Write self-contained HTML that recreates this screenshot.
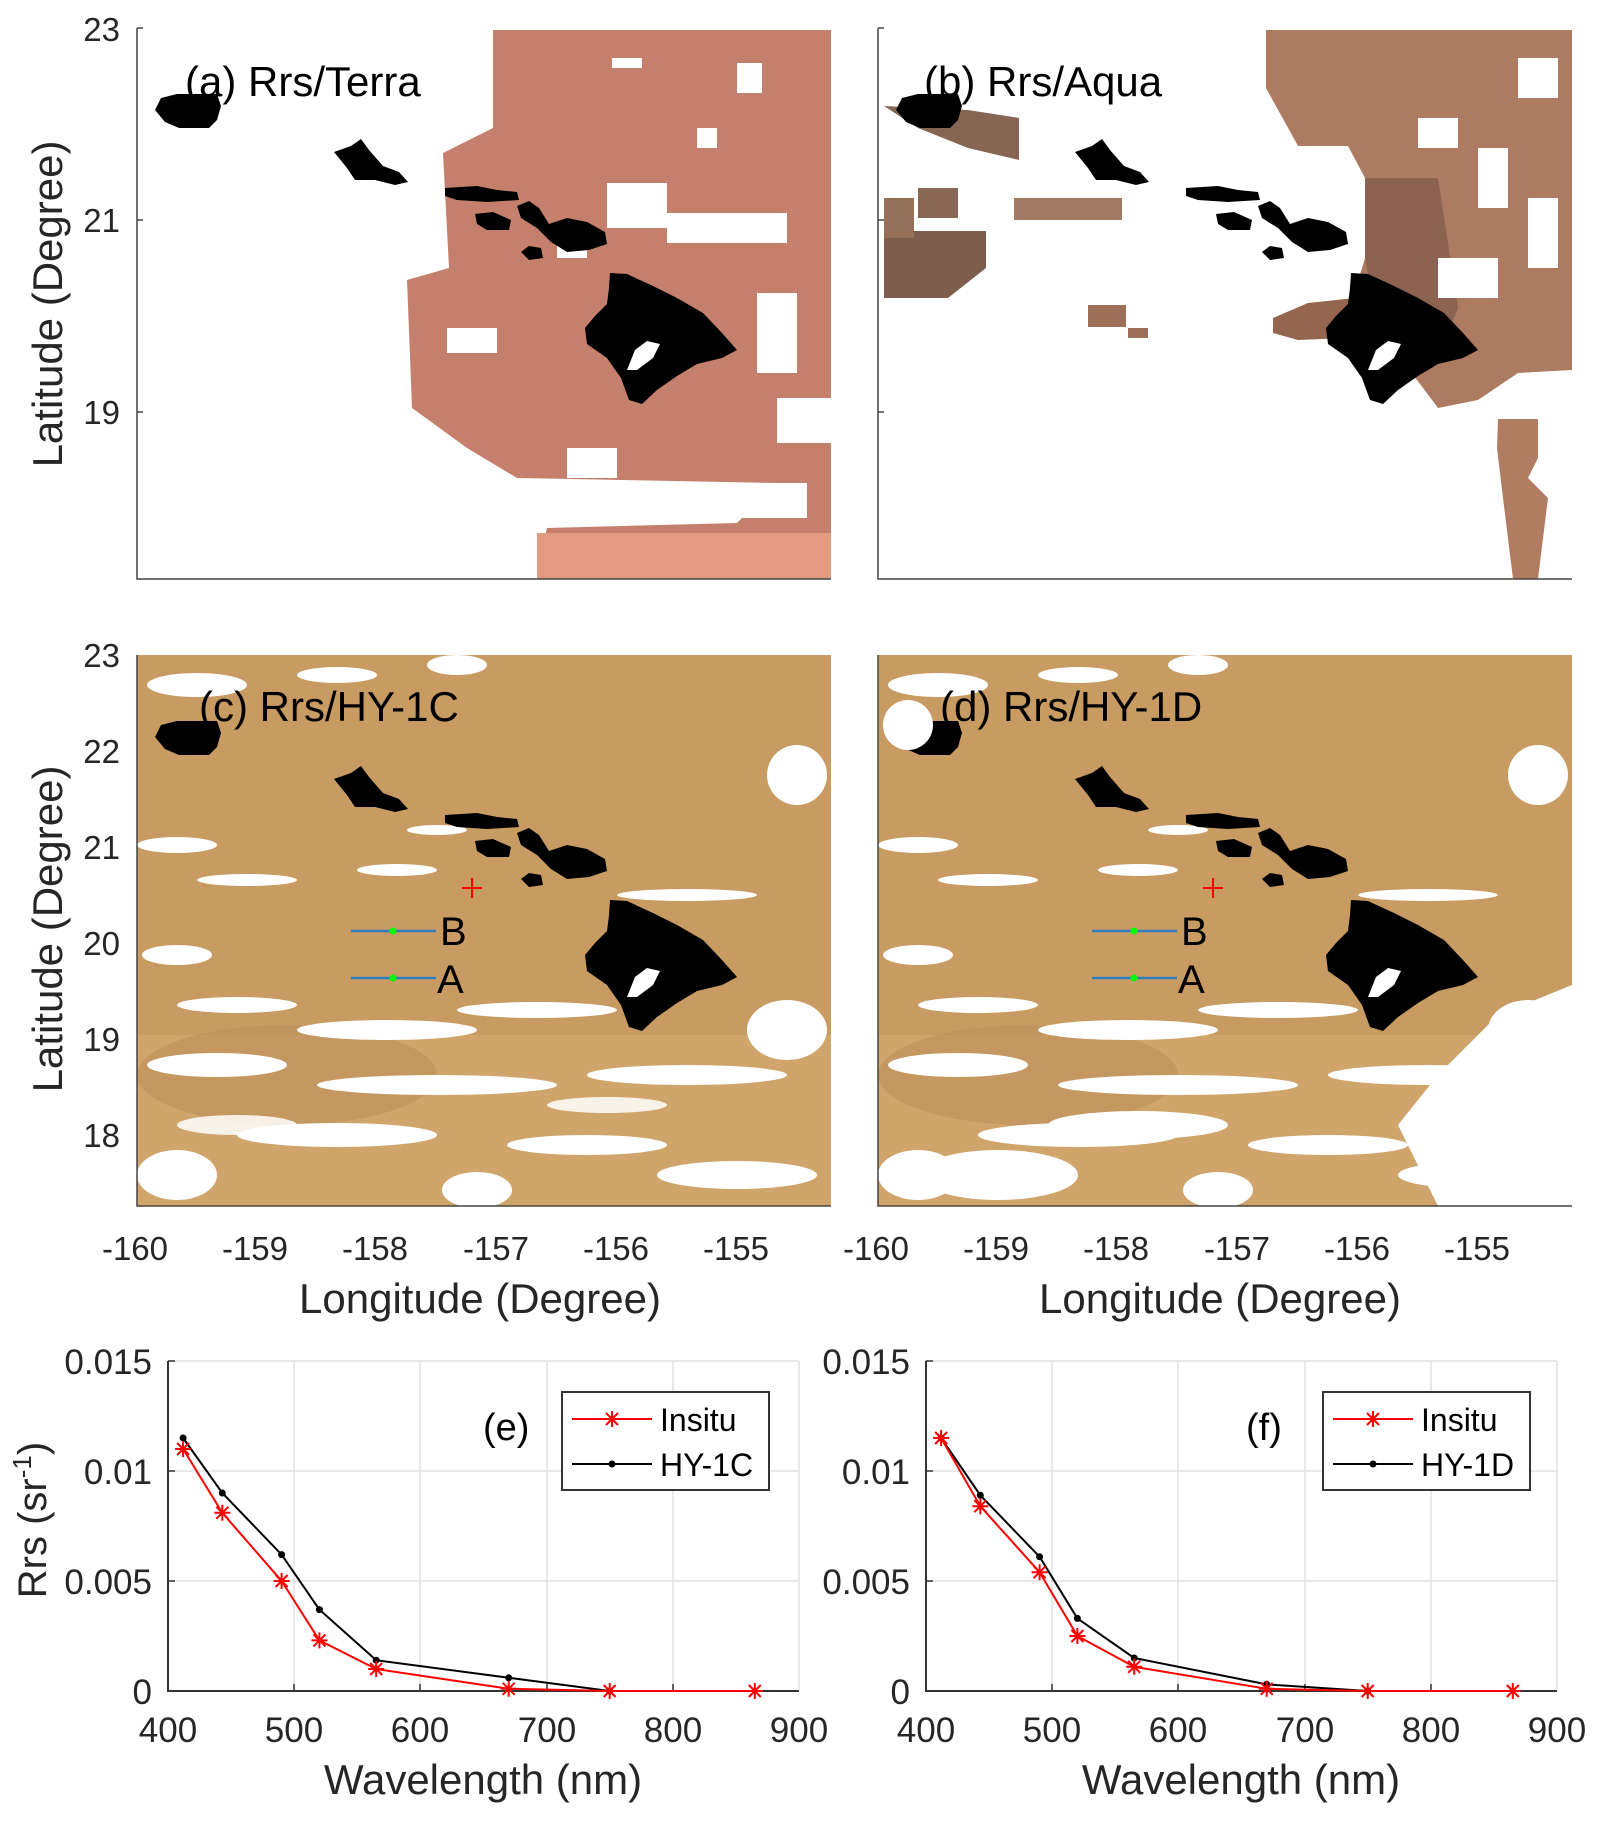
<!DOCTYPE html>
<html><head><meta charset="utf-8"><style>
html,body{margin:0;padding:0;background:#fff}
svg{display:block}
text{font-family:"Liberation Sans",Arial,sans-serif;fill:#262626}
</style></head><body>
<svg width="1598" height="1822" viewBox="0 0 1598 1822" xmlns="http://www.w3.org/2000/svg">
<defs>
<g id="isl">
  <path d="M18,82 L24,70 L40,66 L80,66 L84,78 L80,92 L72,100 L42,100 L28,94 Z" fill="#000"/>
  <path d="M197,124 L214,118 L224,111 L232,122 L246,138 L262,144 L271,154 L258,157 L238,152 L218,152 L210,140 Z" fill="#000"/>
  <path d="M308,160 L340,158 L360,162 L380,164 L382,172 L350,174 L320,172 L308,168 Z" fill="#000"/>
  <path d="M338,186 L356,184 L374,192 L372,202 L350,202 L340,196 Z" fill="#000"/>
  <path d="M380,178 L392,173 L402,180 L412,196 L430,190 L450,194 L468,204 L470,216 L452,222 L430,224 L414,214 L400,200 L384,190 Z" fill="#000"/>
  <path d="M384,224 L392,218 L404,220 L406,230 L392,232 Z" fill="#000"/>
  <path d="M473,245 L490,246 L516,258 L540,270 L566,285 L585,305 L600,322 L585,330 L560,336 L540,348 L520,362 L505,376 L492,372 L484,350 L470,330 L450,316 L448,300 L458,288 L470,276 L472,260 Z" fill="#000"/>
  <path d="M490,342 L498,322 L510,313 L523,316 L516,330 L500,342 Z" fill="#fff"/>
</g>
<g id="ast"><path d="M-8,0H8M0,-8V8M-6,-6L6,6M-6,6L6,-6" stroke="#f00" stroke-width="2" fill="none"/></g>
</defs>

<!-- Panel a -->
<g transform="translate(137,28)">
  <clipPath id="cpa"><rect x="0" y="0" width="694" height="551"/></clipPath>
  <g clip-path="url(#cpa)">
    <polygon points="356,2 694,2 694,551 398,551 410,500 600,495 640,455 380,450 330,420 275,380 270,252 312,240 306,125 356,100" fill="#c4806c"/>
    <rect x="470" y="155" width="60" height="45" fill="#fff"/>
    <rect x="530" y="185" width="120" height="30" fill="#fff"/>
    <rect x="560" y="100" width="20" height="20" fill="#fff"/>
    <rect x="600" y="35" width="25" height="30" fill="#fff"/>
    <rect x="310" y="300" width="50" height="25" fill="#fff"/>
    <rect x="620" y="265" width="40" height="80" fill="#fff"/>
    <rect x="430" y="420" width="50" height="30" fill="#fff"/>
    <rect x="270" y="455" width="130" height="96" fill="#fff"/>
    <rect x="560" y="455" width="110" height="35" fill="#fff"/>
    <rect x="475" y="30" width="30" height="10" fill="#fff"/>
    <rect x="420" y="200" width="30" height="30" fill="#fff"/>
    <rect x="640" y="370" width="54" height="45" fill="#fff"/>
    <rect x="400" y="505" width="294" height="46" fill="#e29b80"/>
    <use href="#isl"/>
  </g>
  <path d="M0,0V551H694" fill="none" stroke="#444" stroke-width="1.5"/>
  <path d="M0,0H6M0,192H6M0,384H6" stroke="#444" stroke-width="1.5"/>
  <text x="48" y="68" font-size="42" style="fill:#000">(a) Rrs/Terra</text>
</g>
<text x="120" y="41" font-size="33" text-anchor="end">23</text>
<text x="120" y="232" font-size="33" text-anchor="end">21</text>
<text x="120" y="424" font-size="33" text-anchor="end">19</text>
<text transform="translate(62,304) rotate(-90)" font-size="42" text-anchor="middle">Latitude (Degree)</text>

<!-- Panel b -->
<g transform="translate(878,28)">
  <clipPath id="cpb"><rect x="0" y="0" width="694" height="551"/></clipPath>
  <g clip-path="url(#cpb)">
    <polygon points="388,2 694,2 694,342 640,345 600,372 560,380 530,340 470,320 455,290 475,270 487,230 487,150 470,118 420,118 388,60" fill="#ad7b62"/>
    <polygon points="487,150 560,150 580,280 560,330 500,300 487,230" fill="#8c6350"/>
    <rect x="540" y="90" width="40" height="30" fill="#fff"/>
    <rect x="600" y="120" width="30" height="60" fill="#fff"/>
    <rect x="560" y="230" width="60" height="40" fill="#fff"/>
    <rect x="640" y="30" width="40" height="40" fill="#fff"/>
    <rect x="650" y="170" width="30" height="70" fill="#fff"/>
    <polygon points="395,290 430,275 477,270 470,310 420,312 395,305" fill="#94664f"/>
    <polygon points="6,203 108,203 108,240 70,270 6,270" fill="#7d5e4d"/>
    <polygon points="6,78 90,82 141,90 141,132 90,120 40,100" fill="#866552"/>
    <rect x="136" y="170" width="108" height="22" fill="#a07a62"/>
    <rect x="210" y="277" width="38" height="22" fill="#9c6f58"/>
    <rect x="250" y="300" width="20" height="10" fill="#9c6f58"/>
    <rect x="40" y="160" width="40" height="30" fill="#8a6654"/>
    <rect x="6" y="170" width="30" height="40" fill="#957058"/>
    <polygon points="620,391 660,391 660,430 650,450 670,470 660,551 635,551 625,470 619,420" fill="#b07d62"/>
    <use href="#isl"/>
  </g>
  <path d="M0,0V551H694" fill="none" stroke="#444" stroke-width="1.5"/>
  <path d="M0,0H6M0,192H6M0,384H6" stroke="#444" stroke-width="1.5"/>
  <text x="46" y="68" font-size="42" style="fill:#000">(b) Rrs/Aqua</text>
</g>

<defs>
<g id="ocean">
  <rect x="0" y="0" width="694" height="551" fill="#c89b63"/>
  <rect x="0" y="380" width="694" height="171" fill="#d0a56c"/>
  <ellipse cx="150" cy="420" rx="150" ry="50" fill="#b98c58" opacity="0.5"/>
  <g fill="#fff">
    <ellipse cx="60" cy="30" rx="50" ry="12"/>
    <ellipse cx="200" cy="20" rx="40" ry="8"/>
    <ellipse cx="320" cy="10" rx="30" ry="10"/>
    <ellipse cx="660" cy="120" rx="30" ry="30"/>
    <ellipse cx="40" cy="190" rx="40" ry="8"/>
    <ellipse cx="110" cy="225" rx="50" ry="6"/>
    <ellipse cx="260" cy="215" rx="40" ry="6"/>
    <ellipse cx="300" cy="175" rx="30" ry="5"/>
    <ellipse cx="550" cy="240" rx="70" ry="6"/>
    <ellipse cx="40" cy="300" rx="35" ry="10"/>
    <ellipse cx="100" cy="350" rx="60" ry="8"/>
    <ellipse cx="250" cy="375" rx="90" ry="10"/>
    <ellipse cx="400" cy="355" rx="80" ry="8"/>
    <ellipse cx="80" cy="410" rx="70" ry="12"/>
    <ellipse cx="300" cy="430" rx="120" ry="10"/>
    <ellipse cx="550" cy="420" rx="100" ry="10"/>
    <ellipse cx="200" cy="480" rx="100" ry="12"/>
    <ellipse cx="450" cy="490" rx="80" ry="10"/>
    <ellipse cx="40" cy="520" rx="40" ry="25"/>
    <ellipse cx="340" cy="535" rx="35" ry="18"/>
    <ellipse cx="600" cy="520" rx="80" ry="14"/>
    <ellipse cx="650" cy="375" rx="40" ry="30"/>
  </g>
  <use href="#isl"/>
</g>
</defs>

<g transform="translate(137,655)">
  <use href="#ocean"/>
  <g fill="#fff" opacity="0.85">
    <ellipse cx="100" cy="470" rx="60" ry="10"/>
    <ellipse cx="470" cy="450" rx="60" ry="8"/>
  </g>
  <path d="M214,276H299M214,323H299" stroke="#2f7fbf" stroke-width="2.5"/>
  <circle cx="256" cy="276" r="3.5" fill="#0f0"/><circle cx="256" cy="323" r="3.5" fill="#0f0"/>
  <path d="M325,233H345M335,223V243" stroke="#f00" stroke-width="2"/>
  <text x="303" y="290" font-size="40" style="fill:#000">B</text>
  <text x="300" y="338" font-size="40" style="fill:#000">A</text>
  <path d="M0,0V551H694" fill="none" stroke="#444" stroke-width="1.5"/>
  <text x="62" y="66" font-size="42" style="fill:#000">(c) Rrs/HY-1C</text>
</g>
<g transform="translate(878,655)">
  <use href="#ocean"/>
  <g fill="#fff">
    <polygon points="560,551 694,551 694,330 620,360 560,420 520,470"/>
    <ellipse cx="120" cy="520" rx="80" ry="25"/>
    <ellipse cx="260" cy="470" rx="90" ry="14"/>
    <ellipse cx="30" cy="70" rx="25" ry="25"/>
  </g>
  <path d="M214,276H299M214,323H299" stroke="#2f7fbf" stroke-width="2.5"/>
  <circle cx="256" cy="276" r="3.5" fill="#0f0"/><circle cx="256" cy="323" r="3.5" fill="#0f0"/>
  <path d="M325,233H345M335,223V243" stroke="#f00" stroke-width="2"/>
  <text x="303" y="290" font-size="40" style="fill:#000">B</text>
  <text x="300" y="338" font-size="40" style="fill:#000">A</text>
  <path d="M0,0V551H694" fill="none" stroke="#444" stroke-width="1.5"/>
  <text x="62" y="66" font-size="42" style="fill:#000">(d) Rrs/HY-1D</text>
</g>
<g font-size="33" text-anchor="end">
<text x="120" y="667">23</text><text x="120" y="763">22</text><text x="120" y="859">21</text>
<text x="120" y="955">20</text><text x="120" y="1051">19</text><text x="120" y="1147">18</text>
</g>
<text transform="translate(62,929) rotate(-90)" font-size="42" text-anchor="middle">Latitude (Degree)</text>
<g font-size="33" text-anchor="middle">
<text x="135" y="1260">-160</text><text x="255" y="1260">-159</text><text x="375" y="1260">-158</text>
<text x="496" y="1260">-157</text><text x="616" y="1260">-156</text><text x="736" y="1260">-155</text>
<text x="876" y="1260">-160</text><text x="996" y="1260">-159</text><text x="1116" y="1260">-158</text>
<text x="1237" y="1260">-157</text><text x="1357" y="1260">-156</text><text x="1477" y="1260">-155</text>
</g>
<text x="480" y="1313" font-size="42" text-anchor="middle">Longitude (Degree)</text>
<text x="1220" y="1313" font-size="42" text-anchor="middle">Longitude (Degree)</text>

<!-- Plot e -->
<g transform="translate(0,6)">
  <g stroke="#e0e0e0" stroke-width="1.5">
    <path d="M294,1355V1685M420,1355V1685M547,1355V1685M673,1355V1685M799,1355V1685"/>
    <path d="M168,1355H799M168,1465H799M168,1575H799"/>
  </g>
  <path d="M168,1355V1685H799" fill="none" stroke="#333" stroke-width="2"/>
  <path d="M168,1355h7M168,1465h7M168,1575h7M294,1685v-7M420,1685v-7M547,1685v-7M673,1685v-7" stroke="#333" stroke-width="1.5"/>
  <polyline points="183.1,1432 222.3,1487 281.6,1548.6 319.4,1603.6 376.2,1654.2 508.7,1671.8 609.7,1685" fill="none" stroke="#000" stroke-width="2"/>
  <g fill="#000"><circle cx="183.1" cy="1432" r="3.5"/><circle cx="222.3" cy="1487" r="3.5"/><circle cx="281.6" cy="1548.6" r="3.5"/><circle cx="319.4" cy="1603.6" r="3.5"/><circle cx="376.2" cy="1654.2" r="3.5"/><circle cx="508.7" cy="1671.8" r="3.5"/><circle cx="609.7" cy="1685" r="3.5"/></g>
  <polyline points="183.1,1443 222.3,1506.8 281.6,1575 319.4,1634.4 376.2,1663 508.7,1682.8 609.7,1685 754.8,1685" fill="none" stroke="#f00" stroke-width="2"/>
  <use href="#ast" x="183.1" y="1443"/><use href="#ast" x="222.3" y="1506.8"/><use href="#ast" x="281.6" y="1575"/><use href="#ast" x="319.4" y="1634.4"/><use href="#ast" x="376.2" y="1663"/><use href="#ast" x="508.7" y="1682.8"/><use href="#ast" x="609.7" y="1685"/><use href="#ast" x="754.8" y="1685"/>
  <rect x="562" y="1386" width="207" height="98" fill="#fff" stroke="#333" stroke-width="2"/>
  <path d="M572,1413H652" stroke="#f00" stroke-width="2"/><use href="#ast" x="612" y="1413"/>
  <path d="M572,1458H652" stroke="#000" stroke-width="2"/><circle cx="612" cy="1458" r="3.5" fill="#000"/>
  <text x="660" y="1425" font-size="32" style="fill:#000">Insitu</text>
  <text x="660" y="1470" font-size="32" style="fill:#000">HY-1C</text>
  <text x="483" y="1434" font-size="38" style="fill:#000">(e)</text>
</g>
<g font-size="35" text-anchor="end">
<text x="152" y="1374">0.015</text><text x="152" y="1484">0.01</text><text x="152" y="1594">0.005</text><text x="152" y="1704">0</text>
</g>
<g font-size="35" text-anchor="middle">
<text x="168" y="1742">400</text><text x="294" y="1742">500</text><text x="420" y="1742">600</text><text x="547" y="1742">700</text><text x="673" y="1742">800</text><text x="799" y="1742">900</text>
</g>
<text x="483" y="1794" font-size="42" text-anchor="middle">Wavelength (nm)</text>
<text transform="translate(46,1520) rotate(-90)" font-size="40" text-anchor="middle">Rrs (sr<tspan font-size="26" dy="-15">-1</tspan><tspan dy="15">)</tspan></text>

<!-- Plot f -->
<g transform="translate(0,6)">
  <g stroke="#e0e0e0" stroke-width="1.5">
    <path d="M1052,1355V1685M1178,1355V1685M1305,1355V1685M1431,1355V1685M1557,1355V1685"/>
    <path d="M926,1355H1557M926,1465H1557M926,1575H1557"/>
  </g>
  <path d="M926,1355V1685H1557" fill="none" stroke="#333" stroke-width="2"/>
  <path d="M926,1355h7M926,1465h7M926,1575h7M1052,1685v-7M1178,1685v-7M1305,1685v-7M1431,1685v-7" stroke="#333" stroke-width="1.5"/>
  <polyline points="941.1,1432 980.3,1489.2 1039.6,1550.8 1077.4,1612.4 1134.2,1652 1266.7,1678.4 1367.7,1685" fill="none" stroke="#000" stroke-width="2"/>
  <g fill="#000"><circle cx="941.1" cy="1432" r="3.5"/><circle cx="980.3" cy="1489.2" r="3.5"/><circle cx="1039.6" cy="1550.8" r="3.5"/><circle cx="1077.4" cy="1612.4" r="3.5"/><circle cx="1134.2" cy="1652" r="3.5"/><circle cx="1266.7" cy="1678.4" r="3.5"/><circle cx="1367.7" cy="1685" r="3.5"/></g>
  <polyline points="941.1,1432 980.3,1500.2 1039.6,1566.2 1077.4,1630 1134.2,1660.8 1266.7,1682.8 1367.7,1685 1512.8,1685" fill="none" stroke="#f00" stroke-width="2"/>
  <use href="#ast" x="941.1" y="1432"/><use href="#ast" x="980.3" y="1500.2"/><use href="#ast" x="1039.6" y="1566.2"/><use href="#ast" x="1077.4" y="1630"/><use href="#ast" x="1134.2" y="1660.8"/><use href="#ast" x="1266.7" y="1682.8"/><use href="#ast" x="1367.7" y="1685"/><use href="#ast" x="1512.8" y="1685"/>
  <rect x="1323" y="1386" width="207" height="98" fill="#fff" stroke="#333" stroke-width="2"/>
  <path d="M1333,1413H1413" stroke="#f00" stroke-width="2"/><use href="#ast" x="1373" y="1413"/>
  <path d="M1333,1458H1413" stroke="#000" stroke-width="2"/><circle cx="1373" cy="1458" r="3.5" fill="#000"/>
  <text x="1421" y="1425" font-size="32" style="fill:#000">Insitu</text>
  <text x="1421" y="1470" font-size="32" style="fill:#000">HY-1D</text>
  <text x="1246" y="1434" font-size="38" style="fill:#000">(f)</text>
</g>
<g font-size="35" text-anchor="end">
<text x="910" y="1374">0.015</text><text x="910" y="1484">0.01</text><text x="910" y="1594">0.005</text><text x="910" y="1704">0</text>
</g>
<g font-size="35" text-anchor="middle">
<text x="926" y="1742">400</text><text x="1052" y="1742">500</text><text x="1178" y="1742">600</text><text x="1305" y="1742">700</text><text x="1431" y="1742">800</text><text x="1557" y="1742">900</text>
</g>
<text x="1241" y="1794" font-size="42" text-anchor="middle">Wavelength (nm)</text>
</svg>
</body></html>
